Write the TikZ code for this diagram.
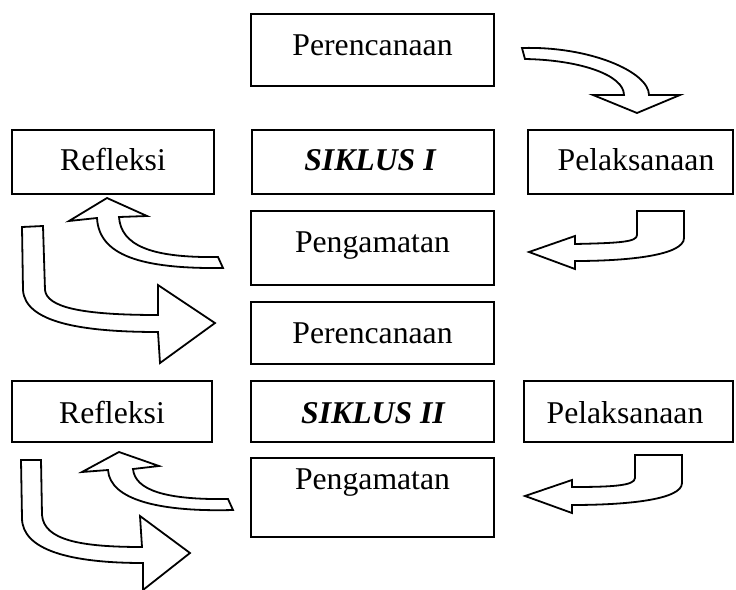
\documentclass[tikz,border=0pt]{standalone}
\usepackage{fontspec}
\setmainfont{Liberation Serif}
\begin{document}
\begin{tikzpicture}[x=0.5pt,y=-0.5pt,
  box/.style={draw=black, line width=1pt, rectangle, inner sep=0pt},
  lbl/.style={anchor=base, inner sep=0pt, font=\fontsize{15.85}{19}\selectfont},
  blbl/.style={lbl, font=\fontsize{15.85}{19}\selectfont\bfseries\itshape},
  bigarrow/.style={draw=black, fill=white, line width=0.9pt, line join=miter}]
\useasboundingbox (0,0) rectangle (736,590);
% boxes
\node[box, minimum width=121.5pt, minimum height=36pt] (per1) at (372.5,50) {};
\node[box, minimum width=101pt, minimum height=32pt] (ref1) at (113,162) {};
\node[box, minimum width=121pt, minimum height=32pt] (sik1) at (373,162) {};
\node[box, minimum width=102.5pt, minimum height=32pt] (pel1) at (630.5,162) {};
\node[box, minimum width=121.5pt, minimum height=37pt] (pen1) at (372.5,248) {};
\node[box, minimum width=121.5pt, minimum height=31pt] (per2) at (372.5,333) {};
\node[box, minimum width=100pt, minimum height=30.5pt] (ref2) at (112,411.5) {};
\node[box, minimum width=121.5pt, minimum height=30.5pt] (sik2) at (372.5,411.5) {};
\node[box, minimum width=104.5pt, minimum height=30.5pt] (pel2) at (628.5,411.5) {};
\node[box, minimum width=121.5pt, minimum height=39.5pt] (pen2) at (372.5,497.5) {};
% labels
\node[lbl] (tper1) at (372.5,55) {Perencanaan};
\node[lbl] (tref1) at (113,170) {Refleksi};
\node[blbl] (tsik1) at (370,170) {SIKLUS I};
\node[lbl] (tpel1) at (636,170) {Pelaksanaan};
\node[lbl] (tpen1) at (372.5,252) {Pengamatan};
\node[lbl] (tper2) at (372.5,343) {Perencanaan};
\node[lbl] (tref2) at (112,423) {Refleksi};
\node[blbl] (tsik2) at (373,423) {SIKLUS II};
\node[lbl] (tpel2) at (625,423) {Pelaksanaan};
\node[lbl] (tpen2) at (372.5,489) {Pengamatan};
% arrow A: Perencanaan -> Pelaksanaan
\draw[bigarrow] (522,48) .. controls (590,46) and (649,72) .. (649,95) -- (680,95) -- (637,113) -- (593,95) -- (624,95) .. controls (624,75) and (580,60) .. (525,59) -- cycle;
% arrow B: Pelaksanaan -> Pengamatan
\draw[bigarrow] (637,211) -- (684,211) -- (684,238) .. controls (684,255) and (630,261) .. (575,261) -- (575,269) -- (529,252) -- (575,236) -- (575,244) .. controls (620,243) and (637,242) .. (637,235) -- cycle;
% arrow C: Pengamatan -> Refleksi
\draw[bigarrow] (218,257) .. controls (150,258) and (121,245) .. (119,217) -- (147,216) -- (107,198) -- (69,221) -- (97,218) .. controls (99,255) and (140,269) .. (223,268) -- cycle;
% arrow D: Refleksi -> Perencanaan 2
\draw[bigarrow] (22,227) -- (43,226) -- (45,290) .. controls (47,307) and (80,315) .. (158,315) -- (158,285) -- (215,323) -- (160,363) -- (158,332) .. controls (80,332) and (25,322) .. (23,290) -- cycle;
% arrow E: Pelaksanaan 2 -> Pengamatan 2
\draw[bigarrow] (635,455) -- (682,455) -- (682,483) .. controls (682,500) and (625,505) .. (572,505) -- (572,513) -- (525,496) -- (572,480) -- (572,487) .. controls (610,487) and (635,486) .. (635,478) -- cycle;
% arrow F: Pengamatan 2 -> Refleksi 2
\draw[bigarrow] (228,499) .. controls (165,500) and (135,490) .. (133,469) -- (159,466) -- (119,452) -- (82,472) -- (108,470) .. controls (110,500) and (160,512) .. (233,510) -- cycle;
% arrow G: Refleksi 2 -> onward
\draw[bigarrow] (21,460) -- (41,460) -- (42,515) .. controls (44,540) and (80,547) .. (142,547) -- (140,516) -- (190,553) -- (143,590) -- (143,563) .. controls (70,563) and (22,550) .. (22,518) -- cycle;
\end{tikzpicture}
\end{document}
